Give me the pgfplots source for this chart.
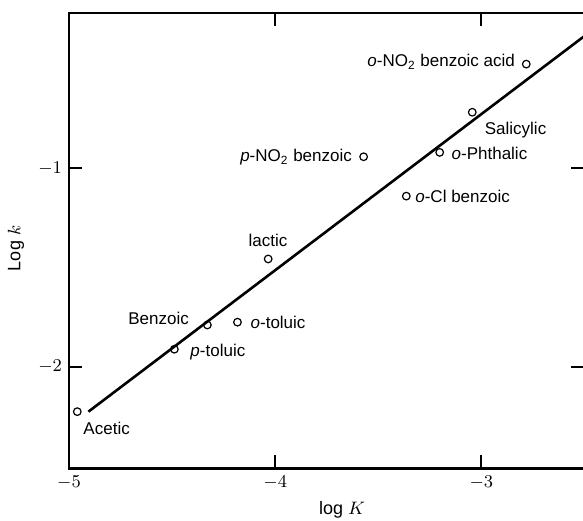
\documentclass[border=0pt]{standalone}
\usepackage{pgfplots}
\pgfplotsset{compat=1.18}
\usepackage{fontspec}
\setmainfont{Liberation Sans}
\tikzset{lbl/.style={font=\fontsize{8.5}{10}\selectfont, inner sep=0pt}}

\begin{document}
\begin{tikzpicture}
\begin{axis}[
    name=ax,
    scale only axis,
    width=257.5pt, height=227.5pt,
    xmin=-5, xmax=-2.5, ymin=-2.51, ymax=-0.22,
    xtick={-5,-4,-3}, ytick={-2,-1},
    axis line style={line width=1.2pt},
    tick style={line width=0.9pt, black},
    major tick length=6.5pt,
    ticklabel style={font=\small},
    xlabel={log $K$}, ylabel={Log $k$},
    label style={font=\small},
    xlabel style={at={(axis description cs:0.53,-0.092)}, anchor=center},
    ylabel style={at={(axis description cs:-0.103,0.483)}, anchor=center},
]
% regression line
\addplot[line width=1.3pt, no marks] coordinates {(-4.906,-2.225) (-2.5,-0.336)};
% acids: log K, log k
\addplot[only marks, mark=o, mark size=1.9pt, mark options={line width=0.6pt}] table {
x y
-4.960 -2.225
-4.489 -1.911
-4.329 -1.789
-4.183 -1.775
-4.034 -1.457
-3.571 -0.943
-3.364 -1.141
-3.202 -0.921
-3.044 -0.719
-2.782 -0.477
};
\node[lbl, anchor=east] at (axis cs:-2.835,-0.467) {\textit{o}-NO\textsubscript{2} benzoic acid};
\node[lbl, anchor=west] at (axis cs:-2.985,-0.809) {Salicylic};
\node[lbl, anchor=east] at (axis cs:-3.626,-0.945) {\textit{p}-NO\textsubscript{2} benzoic};
\node[lbl, anchor=west] at (axis cs:-3.146,-0.925) {\textit{o}-Phthalic};
\node[lbl, anchor=west] at (axis cs:-3.322,-1.141) {\textit{o}-Cl benzoic};
\node[lbl, anchor=west] at (axis cs:-4.131,-1.362) {lactic};
\node[lbl, anchor=east] at (axis cs:-4.417,-1.754) {Benzoic};
\node[lbl, anchor=west] at (axis cs:-4.121,-1.774) {\textit{o}-toluic};
\node[lbl, anchor=west] at (axis cs:-4.413,-1.925) {\textit{p}-toluic};
\node[lbl, anchor=west] at (axis cs:-4.932,-2.307) {Acetic};
\end{axis}
\pgfresetboundingbox
\path[use as bounding box] ([xshift=-34.5pt,yshift=-26pt]ax.south west) rectangle ([xshift=-0.7pt,yshift=6.5pt]ax.north east);
\end{tikzpicture}
\end{document}
